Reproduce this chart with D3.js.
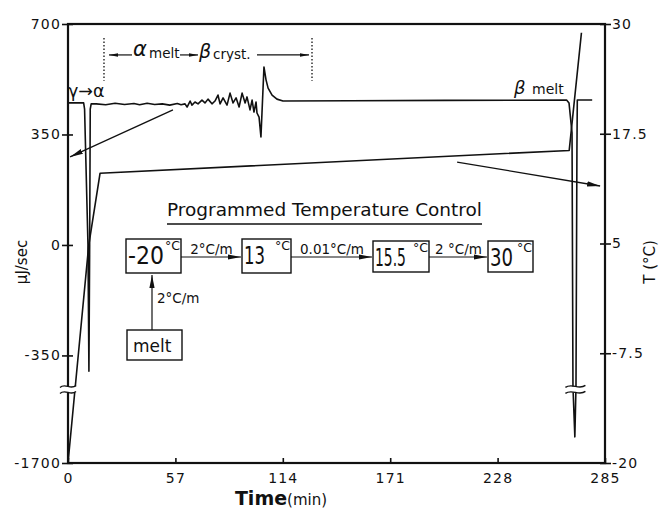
<!doctype html>
<html lang="en">
<head>
<meta charset="UTF-8">
<title>DSC programmed temperature</title>
<script src="https://d3js.org/d3.v7.min.js"></script>
<style>
  body { margin: 0; background: #fff; }
  svg { display: block; font-family: "DejaVu Sans", sans-serif; }
</style>
</head>
<body>
<script>
  // heat flow trace (uJ/sec) against time (min)
  var dscTime = [0, 8.3, 8.8, 10.6, 11.1, 11.5, 11.8, 12.3, 15, 20, 25, 30, 35, 38, 42, 46, 50, 54, 58, 60,
    62.1, 63.2, 64.8, 65.8, 67.4, 69.0, 71.1, 72.7, 74.3, 76.4, 78.0, 79.6, 80.7, 82.3, 84.4, 86.0,
    87.6, 89.2, 90.8, 92.4, 94.0, 95.0, 96.6, 97.7, 98.7, 99.8, 100.3, 101.4, 102.4, 104.0, 105.1,
    106.2, 108.3, 110.9, 114.1, 150, 200, 264.6, 265.9, 267.5, 268.0, 269.0, 269.6, 270.1, 270.3, 278.2];
  var dscFlow = [450, 450, 430, 0, -400, 0, 430, 447, 447, 444, 449, 445, 448, 444, 449, 445, 447, 443, 448, 444,
    447, 437, 456, 443, 453, 447, 459, 450, 462, 447, 456, 475, 447, 466, 443, 481,
    450, 466, 437, 481, 450, 469, 428, 459, 421, 453, 418, 405, 342, 564, 523,
    497, 475, 462, 456, 457, 458, 459, 450, 355, -450, -1270, -450, 300, 459, 459];

  // programmed temperature (deg C) against time (min)
  var tempTime = [0, 11, 17, 266, 272.5];
  var tempValue = [-20, 4.8, 13, 15.6, 29];

  var timeTicks = [0, 57, 114, 171, 228, 285];
  var flowTicks = [700, 350, 0, -350, -1700];
  var tempTicks = [30, 17.5, 5, -7.5, -20];

  var programSteps = ["-20", "13", "15.5", "30"];
  var programRates = ["2°C/m", "0.01°C/m", "2 °C/m"];

  var width = 665, height = 509;
  var svg = d3.select("body").append("svg")
      .attr("width", width)
      .attr("height", height);

  var x = d3.scaleLinear().domain([0, 285]).range([68, 605]);
  // left axis is broken below -350
  var yL = d3.scaleLinear().domain([-1700, -450, 700]).range([463, 387, 24]);
  var yR = d3.scaleLinear().domain([-20, 30]).range([463, 24]);

  var defs = svg.append("defs");
  defs.append("marker").attr("id", "head")
      .attr("viewBox", "0 -3 13 6").attr("refX", 13).attr("refY", 0)
      .attr("markerWidth", 13).attr("markerHeight", 6)
      .attr("markerUnits", "userSpaceOnUse").attr("orient", "auto")
      .append("path").attr("d", "M0,-2.6L13,0L0,2.6Z").attr("fill", "#111");
  defs.append("marker").attr("id", "small")
      .attr("viewBox", "0 -2 9 4").attr("refX", 9).attr("refY", 0)
      .attr("markerWidth", 9).attr("markerHeight", 4)
      .attr("markerUnits", "userSpaceOnUse").attr("orient", "auto")
      .append("path").attr("d", "M0,-1.8L9,0L0,1.8Z").attr("fill", "#111");

  var plain = function(d) { return String(d); };

  // axes
  var axL = svg.append("g").attr("transform", "translate(68,0)")
      .call(d3.axisLeft(yL).tickValues(flowTicks).tickSizeInner(6).tickSizeOuter(0).tickPadding(1)
        .tickFormat(plain));
  axL.selectAll(".tick line").attr("x1", 5);
  var axR = svg.append("g").attr("transform", "translate(605,0)")
      .call(d3.axisRight(yR).tickValues(tempTicks).tickSizeInner(6).tickSizeOuter(0).tickPadding(1)
        .tickFormat(plain));
  axR.selectAll(".tick line").attr("x1", -5);
  var axB = svg.append("g").attr("transform", "translate(0,463)")
      .call(d3.axisBottom(x).tickValues(timeTicks).tickSize(-5).tickPadding(10).tickFormat(plain));

  [axL, axR, axB].forEach(function(a) {
    a.select(".domain").remove();
    a.selectAll(".tick line").attr("stroke", "#111").attr("stroke-width", 1.6);
    a.selectAll("text").attr("fill", "#111").style("font-size", "14px")
        .style("letter-spacing", "1.2px").style("font-family", "DejaVu Sans, sans-serif");
  });

  svg.append("rect")
      .attr("x", 68).attr("y", 24).attr("width", 537).attr("height", 439)
      .attr("fill", "none").attr("stroke", "#111").attr("stroke-width", 2.2);

  // traces
  var dscPts = dscTime.map(function(t, i) { return [t, dscFlow[i]]; });
  var tempPts = tempTime.map(function(t, i) { return [t, tempValue[i]]; });

  svg.append("path").datum(dscPts)
      .attr("d", d3.line().x(function(d) { return x(d[0]); }).y(function(d) { return yL(d[1]); }))
      .attr("fill", "none").attr("stroke", "#111").attr("stroke-width", 1.6)
      .attr("stroke-linejoin", "round");
  svg.append("path").datum(tempPts)
      .attr("d", d3.line().x(function(d) { return x(d[0]); }).y(function(d) { return yR(d[1]); }))
      .attr("fill", "none").attr("stroke", "#111").attr("stroke-width", 1.6)
      .attr("stroke-linejoin", "round");

  // axis breaks
  function breakMark(cx, cy, half) {
    svg.append("rect").attr("x", cx - half).attr("y", cy - 3).attr("width", half * 2).attr("height", 6)
        .attr("fill", "#fff");
    [-3, 3].forEach(function(o) {
      var y0 = cy + o;
      svg.append("path")
          .attr("d", "M" + (cx - half) + "," + (y0 + 1) + " C" + (cx - half / 3) + "," + (y0 - 4) + " " +
                (cx + half / 3) + "," + (y0 + 4) + " " + (cx + half) + "," + (y0 - 1))
          .attr("fill", "none").attr("stroke", "#111").attr("stroke-width", 1.4);
    });
  }
  breakMark(68, yL(-490), 8);
  breakMark(x(269.3), yL(-490), 10);

  // annotation arrows to the axes
  svg.append("line")
      .attr("x1", x(55.7)).attr("y1", yL(428)).attr("x2", x(1.1)).attr("y2", yL(279))
      .attr("stroke", "#111").attr("stroke-width", 1.3).attr("marker-end", "url(#head)");
  svg.append("line")
      .attr("x1", x(206.5)).attr("y1", yR(14.28)).attr("x2", x(282.4)).attr("y2", yR(11.55))
      .attr("stroke", "#111").attr("stroke-width", 1.3).attr("marker-end", "url(#head)");

  // dotted limits of the alpha melt / beta cryst. region
  [19.1, 129.5].forEach(function(t) {
    svg.append("line")
        .attr("x1", x(t)).attr("x2", x(t)).attr("y1", yL(656)).attr("y2", yL(520))
        .attr("stroke", "#111").attr("stroke-width", 1.3).attr("stroke-dasharray", "1.5,2");
  });
  var yMid = yL(602);
  svg.append("line").attr("x1", 132).attr("x2", 109).attr("y1", yMid).attr("y2", yMid)
      .attr("stroke", "#111").attr("stroke-width", 1.2).attr("marker-end", "url(#small)");
  svg.append("line").attr("x1", 180).attr("x2", 198).attr("y1", yMid).attr("y2", yMid)
      .attr("stroke", "#111").attr("stroke-width", 1.2).attr("marker-end", "url(#small)");
  svg.append("line").attr("x1", 257).attr("x2", 309).attr("y1", yMid).attr("y2", yMid)
      .attr("stroke", "#111").attr("stroke-width", 1.2).attr("marker-end", "url(#small)");

  var notes = svg.append("g").attr("fill", "#111");
  notes.append("text").attr("x", 133).attr("y", 56).style("font-size", "21px").style("font-style", "italic").text("α");
  notes.append("text").attr("x", 149).attr("y", 58).style("font-size", "13.5px").text("melt");
  notes.append("text").attr("x", 199).attr("y", 58).style("font-size", "19px").style("font-style", "italic").text("β");
  notes.append("text").attr("x", 213).attr("y", 59).style("font-size", "13.5px").text("cryst.");
  notes.append("text").attr("x", 68).attr("y", 97).style("font-size", "17.5px").text("γ→α");
  notes.append("text").attr("x", 514).attr("y", 94).style("font-size", "18px").style("font-style", "italic").text("β");
  notes.append("text").attr("x", 532).attr("y", 94).style("font-size", "14px").text("melt");

  // programmed temperature control inset
  var inset = svg.append("g").attr("fill", "#111");
  inset.append("text").attr("x", 167).attr("y", 216)
      .attr("textLength", 315).attr("lengthAdjust", "spacingAndGlyphs")
      .style("font-size", "18px").text("Programmed  Temperature  Control");
  inset.append("line").attr("x1", 167).attr("x2", 482).attr("y1", 224).attr("y2", 224)
      .attr("stroke", "#111").attr("stroke-width", 1.3);

  var boxes = [
    {x: 126, y: 239, w: 55, h: 34, tw: 36},
    {x: 242, y: 239, w: 49, h: 34, tw: 21},
    {x: 373, y: 241, w: 56, h: 31, tw: 31},
    {x: 488, y: 241, w: 45, h: 31, tw: 23}
  ];
  boxes.forEach(function(b, i) {
    inset.append("rect").attr("x", b.x).attr("y", b.y).attr("width", b.w).attr("height", b.h)
        .attr("fill", "none").attr("stroke", "#111").attr("stroke-width", 1.4);
    var num = inset.append("text").style("font-size", "25px").text(programSteps[i]);
    var nat = num.node().getComputedTextLength();
    num.attr("transform", "translate(" + (b.x + 2) + "," + (b.y + 25) + ") scale(" + (b.tw / nat) + ",1)");
    inset.append("text").attr("x", b.x + b.w - 1).attr("y", b.y + 11).attr("text-anchor", "end")
        .style("font-size", "12.5px").text("°C");
  });
  programRates.forEach(function(r, i) {
    var x0 = boxes[i].x + boxes[i].w, x1 = boxes[i + 1].x;
    inset.append("line").attr("x1", x0).attr("x2", x1 - 1).attr("y1", 257).attr("y2", 257)
        .attr("stroke", "#111").attr("stroke-width", 1.2).attr("marker-end", "url(#head)");
    inset.append("text").attr("x", (x0 + x1) / 2).attr("y", 254).attr("text-anchor", "middle")
        .style("font-size", "13.5px").text(r);
  });
  inset.append("rect").attr("x", 127).attr("y", 330).attr("width", 55).attr("height", 30)
      .attr("fill", "none").attr("stroke", "#111").attr("stroke-width", 1.4);
  inset.append("text").attr("x", 133).attr("y", 352).style("font-size", "17px").text("melt");
  inset.append("line").attr("x1", 152).attr("x2", 152).attr("y1", 330).attr("y2", 275)
      .attr("stroke", "#111").attr("stroke-width", 1.2).attr("marker-end", "url(#head)");
  inset.append("text").attr("x", 157).attr("y", 303).style("font-size", "13.5px").text("2°C/m");

  // axis titles
  svg.append("text").attr("transform", "translate(27,262) rotate(-90)").attr("text-anchor", "middle")
      .attr("fill", "#111").style("font-size", "15px").text("μJ/sec");
  svg.append("text").attr("transform", "translate(655,262) rotate(-90)").attr("text-anchor", "middle")
      .attr("fill", "#111").style("font-size", "15px").text("T (°C)");
  var xt = svg.append("text").attr("x", 281).attr("y", 505).attr("text-anchor", "middle").attr("fill", "#111");
  xt.append("tspan").style("font-size", "19px").style("font-weight", "bold").text("Time");
  xt.append("tspan").style("font-size", "15px").text("(min)");
</script>
</body>
</html>
